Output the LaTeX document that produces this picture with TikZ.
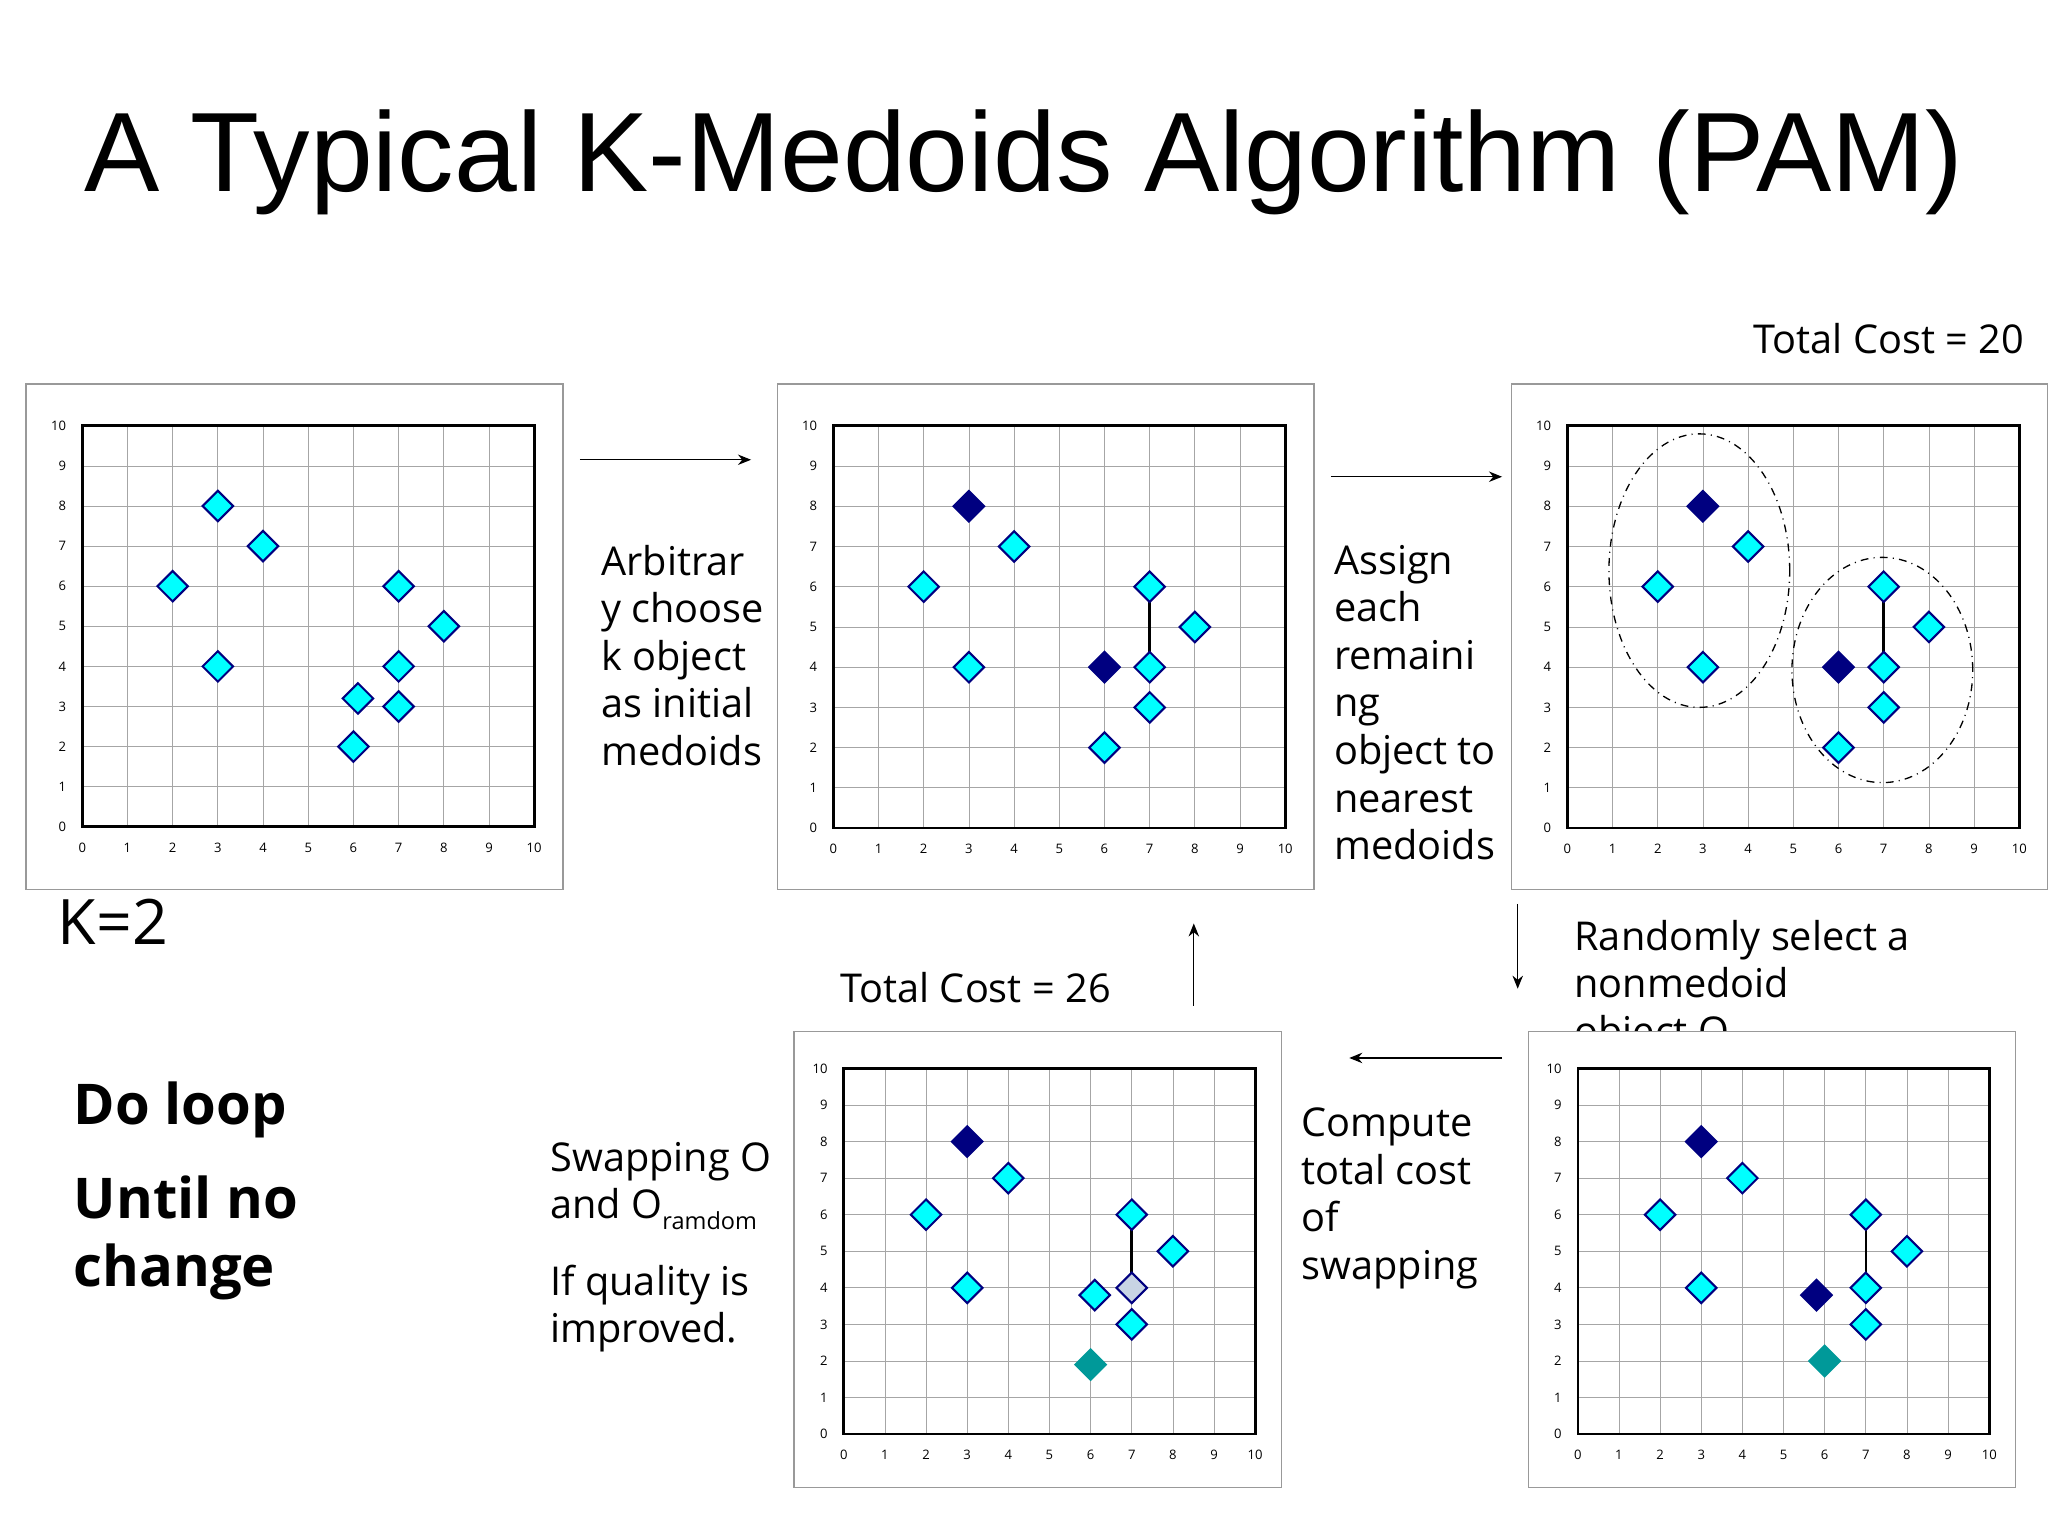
\documentclass[tikz,border=0pt]{standalone}
\usepackage{fontspec}
\setmainfont{Open Sans}
\newfontfamily\titlefont{Liberation Sans}
\usetikzlibrary{shapes.geometric,arrows.meta}
\definecolor{cyanpt}{HTML}{00FFFF}
\definecolor{navypt}{HTML}{000080}
\definecolor{tealpt}{HTML}{009999}
\definecolor{palept}{HTML}{C8D4E4}
\tikzset{
  cy/.style={diamond,draw=navypt,line width=0.8pt,fill=cyanpt,minimum size=12pt,inner sep=0pt},
  dk/.style={cy,fill=navypt},
  tl/.style={cy,draw=tealpt,fill=tealpt},
  pl/.style={cy,fill=palept},
  ticklab/.style={font=\fontsize{5}{6}\selectfont,inner sep=1pt},
  frame/.style={draw=gray!80,fill=white,line width=0.5pt},
  body/.style={font=\fontsize{15.2}{18.2}\selectfont,anchor=north west,align=left,inner sep=0pt},
  arr/.style={-{Stealth[length=5pt,width=4pt]},line width=0.5pt},
  ell/.style={dash dot,line width=0.5pt}
}
\newcommand\gridcontent{%
  \foreach \i in {1,...,9}{\draw[gray!70,line width=0.3pt] (\i,0) -- (\i,10); \draw[gray!70,line width=0.3pt] (0,\i) -- (10,\i);}
  \draw[line width=1pt] (0,0) rectangle (10,10);
  \foreach \i in {0,...,10}{\node[ticklab,below=5pt] at (\i,0) {\i};\node[ticklab,left=5pt] at (0,\i) {\i};}}
\begin{document}
\begin{tikzpicture}[x=0.5pt,y=-0.5pt]
\useasboundingbox[fill=white] (0,0) rectangle (1568,1176);
\node[font=\titlefont\fontsize{43.2}{46}\selectfont,inner sep=0pt] (title) at (784,124) {A Typical K-Medoids Algorithm (PAM)};
% texts
\node[body,anchor=north east] (tc20) at (1550,247) {Total Cost = 20};
\node[body,font=\fontsize{24}{28}\selectfont] (k2) at (44,688) {K=2};
\node[body] (t1) at (460,417) {Arbitrar\\y choose\\k object\\as initial\\medoids};
\node[body] (t2) at (1021,417) {Assign\\each\\remaini\\ng\\object to\\nearest\\medoids};
\node[body] (t3) at (1205,704) {Randomly select a\\nonmedoid\\object O};
\node[body] (tc26) at (643,744) {Total Cost = 26};
\node[body] (t4) at (996,848) {Compute\\total cost\\of\\swapping};
\node[body] (t5) at (421,874) {Swapping O\\and O{\fontsize{9}{10}\selectfont\raisebox{-4pt}{ramdom}}};
\node[body] (t6) at (421,968) {If quality is\\improved.};
\node[body,font=\bfseries\fontsize{21.5}{36}\selectfont] (t7) at (56,828) {Do loop};
\node[body,font=\bfseries\fontsize{21.5}{26}\selectfont] (t8) at (56,900) {Until no\\change};
% frames
\draw[frame] (20,294) rectangle (431,681);
\draw[frame] (595,294) rectangle (1006,681);
\draw[frame] (1157,294) rectangle (1568,681);
\draw[frame] (608,790) rectangle (981,1139);
\draw[frame] (1170,790) rectangle (1543,1139);
% panel 1
\begin{scope}[shift={(63,633)},x=17.3pt,y=15.35pt]
\gridcontent
\foreach \a/\b [count=\n] in {3/8,4/7,2/6,3/4,7/6,8/5,7/4,6.1/3.2,7/3,6/2}
  \node[cy] (pa\n) at (\a,\b) {};
\end{scope}
% panel 2
\begin{scope}[shift={(638,634)},x=17.3pt,y=15.4pt]
\gridcontent
\draw[line width=1pt] (7,6) -- (7,4);
\node[dk] (pb1) at (3,8) {};
\node[dk] (pb2) at (6,4) {};
\foreach \a/\b [count=\n] in {4/7,2/6,3/4,7/6,8/5,7/4,7/3,6/2}
  \node[cy] (pbc\n) at (\a,\b) {};
\end{scope}
% panel 3
\begin{scope}[shift={(1200,634)},x=17.3pt,y=15.4pt]
\gridcontent
\draw[ell] (2.92,6.4) ellipse [x radius=2.0,y radius=3.4];
\draw[ell] (6.97,3.93) ellipse [x radius=2.0,y radius=2.8];
\draw[line width=1pt] (7,6) -- (7,4);
\node[dk] (pc1) at (3,8) {};
\node[dk] (pc2) at (6,4) {};
\foreach \a/\b [count=\n] in {4/7,2/6,3/4,7/6,8/5,7/4,7/3,6/2}
  \node[cy] (pcc\n) at (\a,\b) {};
\end{scope}
% panel 4 (bottom left)
\begin{scope}[shift={(646,1098)},x=15.75pt,y=14pt]
\gridcontent
\draw[line width=1pt] (7,6) -- (7,4);
\node[dk] (pd1) at (3,8) {};
\node[pl] (pd2) at (7,4) {};
\node[tl] (pd3) at (6,1.9) {};
\foreach \a/\b [count=\n] in {4/7,2/6,3/4,7/6,8/5,6.1/3.8,7/3}
  \node[cy] (pdc\n) at (\a,\b) {};
\end{scope}
% panel 5 (bottom right)
\begin{scope}[shift={(1208,1098)},x=15.75pt,y=14pt]
\gridcontent
\draw[line width=1pt] (7,6) -- (7,4);
\node[dk] (pe1) at (3,8) {};
\node[dk] (pe2) at (5.8,3.8) {};
\node[tl] (pe3) at (6,2) {};
\foreach \a/\b [count=\n] in {4/7,2/6,3/4,7/6,8/5,7/4,7/3}
  \node[cy] (pec\n) at (\a,\b) {};
\end{scope}
% arrows
\coordinate (a1s) at (444,352); \coordinate (a1e) at (575,352);
\coordinate (a2s) at (1019,365); \coordinate (a2e) at (1150,365);
\coordinate (a3s) at (1162,692); \coordinate (a3e) at (1162,757);
\coordinate (a4s) at (1150,810); \coordinate (a4e) at (1033,810);
\coordinate (a5s) at (914,770); \coordinate (a5e) at (914,707);
\draw[arr] (a1s) -- (a1e);
\draw[arr] (a2s) -- (a2e);
\draw[arr] (a3s) -- (a3e);
\draw[arr] (a4s) -- (a4e);
\draw[arr] (a5s) -- (a5e);
\end{tikzpicture}
\end{document}
